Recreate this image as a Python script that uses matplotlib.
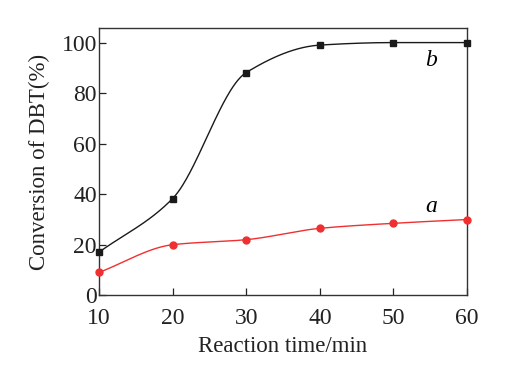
import numpy as np
import matplotlib
matplotlib.use("Agg")
import matplotlib.pyplot as plt

# reaction time (min) and DBT conversion (%)
time_min = [10, 20, 30, 40, 50, 60]
conv_a = [9.0, 20.0, 22.0, 26.5, 28.5, 30.0]
conv_b = [17.0, 38.3, 88.3, 99.2, 100.2, 100.2]


def pchip(x, y, n=300):
    """Monotone cubic curve through the points, for the smooth line only."""
    x = np.asarray(x, float)
    y = np.asarray(y, float)
    h = np.diff(x)
    d = np.diff(y) / h
    m = np.zeros_like(y)
    for k in range(1, len(x) - 1):
        if d[k - 1] * d[k] > 0:
            w1 = 2 * h[k] + h[k - 1]
            w2 = h[k] + 2 * h[k - 1]
            m[k] = (w1 + w2) / (w1 / d[k - 1] + w2 / d[k])
    m[0] = d[0]
    m[-1] = d[-1]
    xs = np.linspace(x[0], x[-1], n)
    idx = np.clip(np.searchsorted(x, xs) - 1, 0, len(x) - 2)
    t = (xs - x[idx]) / h[idx]
    h00 = 2 * t**3 - 3 * t**2 + 1
    h10 = t**3 - 2 * t**2 + t
    h01 = -2 * t**3 + 3 * t**2
    h11 = t**3 - t**2
    ys = (h00 * y[idx] + h10 * h[idx] * m[idx]
          + h01 * y[idx + 1] + h11 * h[idx] * m[idx + 1])
    return xs, ys


plt.rcParams["font.family"] = ["Liberation Serif", "DejaVu Serif"]

fig = plt.figure(figsize=(5.29, 3.68), dpi=100)
ax = fig.add_axes([0.187, 0.198, 0.696, 0.726])

black = "#1a1a1a"
red = "#f03030"

xs, ys = pchip(time_min, conv_b)
ax.plot(xs, ys, color=black, lw=1.0, zorder=2)
ax.plot(time_min, conv_b, ls="none", marker="s", ms=4.5, color=black,
        clip_on=False, zorder=3)

xs, ys = pchip(time_min, conv_a)
ax.plot(xs, ys, color=red, lw=1.0, zorder=2)
ax.plot(time_min, conv_a, ls="none", marker="o", ms=5, color=red,
        clip_on=False, zorder=3)

ax.text(55.1, 93, "b", fontsize=17, fontstyle="italic", ha="center", va="center")
ax.text(55.1, 35, "a", fontsize=17, fontstyle="italic", ha="center", va="center")

ax.set_xlim(10, 60)
ax.set_ylim(0, 106)
ax.set_xticks(time_min)
ax.set_yticks([0, 20, 40, 60, 80, 100])
ax.tick_params(direction="in", length=5, width=0.9, labelsize=17,
               colors="#222222")
ax.tick_params(axis="x", top=False, pad=9)
ax.tick_params(axis="y", right=False, pad=1.5)
for sp in ax.spines.values():
    sp.set_color("#333333")
    sp.set_linewidth(1.0)

ax.set_xlabel("Reaction time/min", fontsize=16.5, color="#222222", labelpad=5)
ax.set_ylabel("Conversion of DBT(%)", fontsize=16.5, color="#222222", labelpad=8)

fig.savefig("out.png", dpi=100)
